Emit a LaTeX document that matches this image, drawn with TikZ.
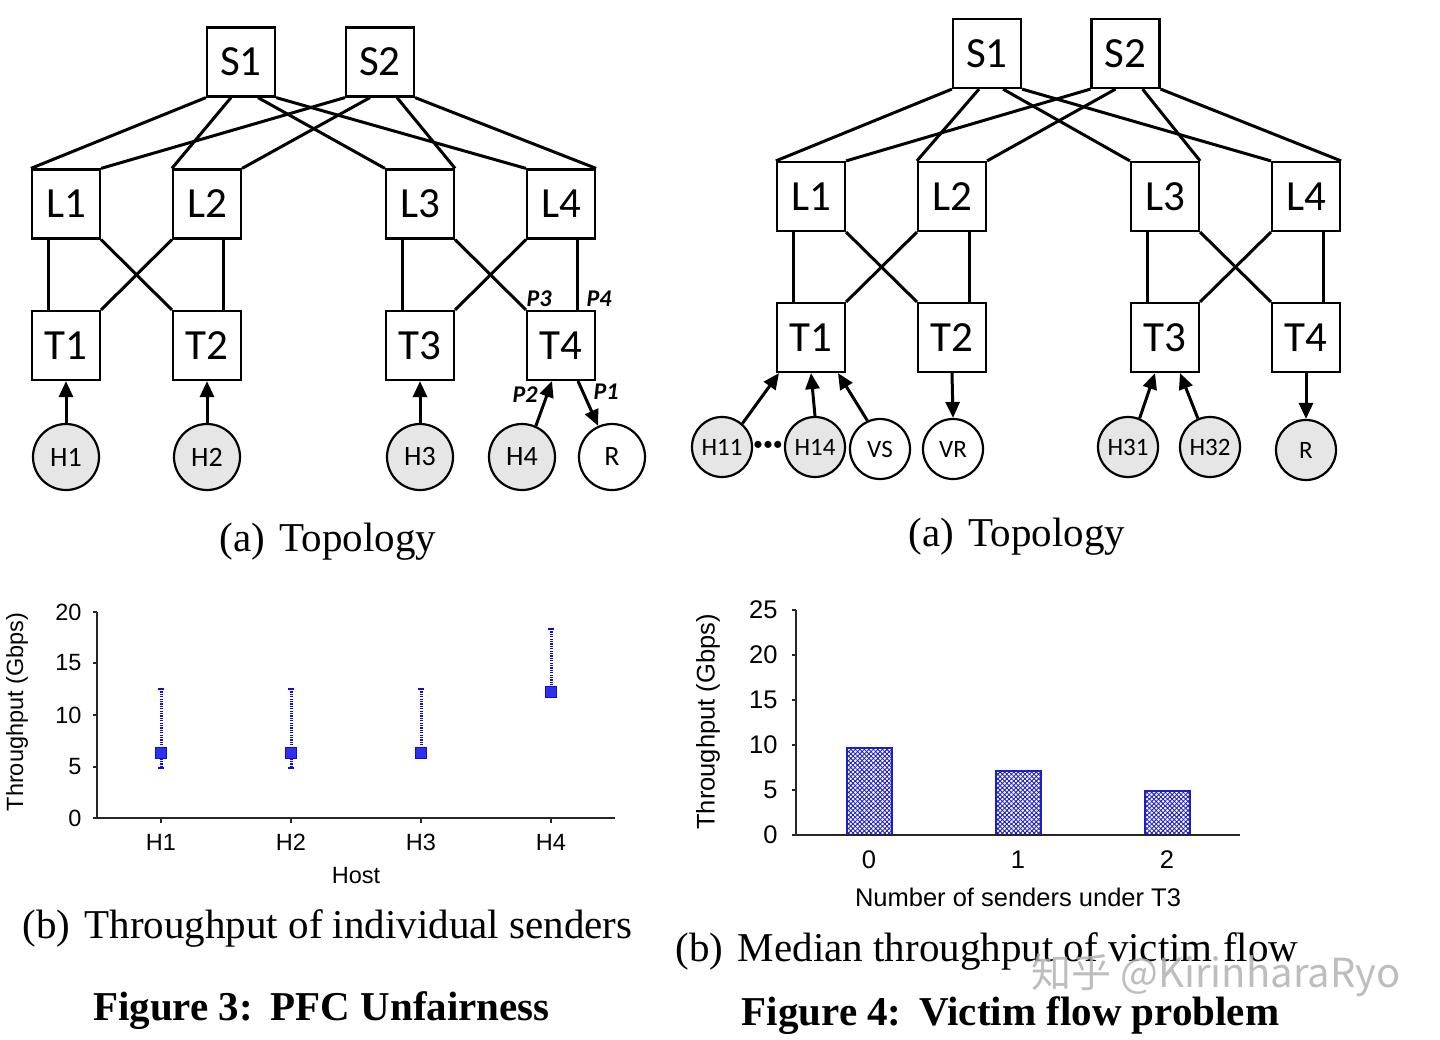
\documentclass[tikz,border=0pt]{standalone}
\usepackage{fontspec}
\setmainfont{Liberation Serif}
\setsansfont{Liberation Sans}
\newfontfamily\calfont{Carlito}
\newfontfamily\cjkfont{Noto Sans CJK SC}
\usetikzlibrary{arrows.meta,patterns.meta}
\newcommand\setfs[1]{\fontsize{#1}{#1}\selectfont}
\definecolor{hostgray}{RGB}{230,230,230}
\definecolor{plotblue}{RGB}{10,10,235}
\definecolor{barblue}{RGB}{30,30,200}
\begin{document}
\begin{tikzpicture}[x=1pt,y=-1pt,
  swbox/.style={draw, line width=2.2pt, minimum width=68pt, minimum height=69pt, inner sep=0pt, font=\calfont\setfs{43}},
  host/.style={circle, draw, line width=2.2pt, fill=hostgray, minimum size=66pt, inner sep=0pt, font=\calfont\setfs{28}},
  rcv/.style={host, fill=white},
  hostr/.style={host, minimum size=60pt, font=\calfont\setfs{25}},
  rcvr/.style={hostr, fill=white},
  link/.style={line width=3pt},
  arr/.style={line width=3pt, -{Triangle[length=16pt,width=14pt]}},
  plab/.style={font=\calfont\bfseries\itshape\setfs{24}},
  axisline/.style={line width=1.3pt, black!85},
  ticklab/.style={font=\sffamily\setfs{23.5}},
  ticklabr/.style={font=\sffamily\setfs{25.5}},
  captext/.style={anchor=base, font=\rmfamily\setfs{41}},
  figcap/.style={anchor=base, font=\rmfamily\bfseries\setfs{41}},
  errbar/.style={plotblue, line width=3pt, dash pattern=on 1.2pt off 1.2pt},
  errcap/.style={plotblue, line width=2pt},
  sqmarker/.style={draw=plotblue, fill=plotblue!85, line width=1pt, minimum size=11pt, inner sep=0pt},
  barrect/.style={draw=barblue, line width=1.8pt}
]
\useasboundingbox (0,0) rectangle (1440,1039);

% ================= Figure 3 topology =================
\node[swbox] (aS1) at (241,62) {S1};
\node[swbox] (aS2) at (380,62) {S2};
\node[swbox] (aL1) at (66,204) {L1};
\node[swbox] (aL2) at (207,204) {L2};
\node[swbox] (aL3) at (420,204) {L3};
\node[swbox] (aL4) at (561,204) {L4};
\node[swbox] (aT1) at (66,345.5) {T1};
\node[swbox] (aT2) at (207,345.5) {T2};
\node[swbox] (aT3) at (420,345.5) {T3};
\node[swbox] (aT4) at (561,345.5) {T4};
\node[host] (aH1) at (66,457) {H1};
\node[host] (aH2) at (207,457) {H2};
\node[host] (aH3) at (420,457) {H3};
\node[host] (aH4) at (522,457) {H4};
\node[rcv] (aR) at (612,457) {R};

\draw[link] (aS1.south west) -- (aL1.north west);
\draw[link] ([xshift=-10pt]aS1.south) -- (aL2.north west);
\draw[link] ([xshift=17pt]aS1.south) -- (aL3.north west);
\draw[link] (aS1.south east) -- (aL4.north west);
\draw[link] (aS2.south west) -- (aL1.north east);
\draw[link] ([xshift=-10pt]aS2.south) -- (aL2.north east);
\draw[link] ([xshift=17pt]aS2.south) -- (aL3.north east);
\draw[link] (aS2.south east) -- (aL4.north east);

\draw[link] ([xshift=-18pt]aL1.south) -- ([xshift=-18pt]aT1.north);
\draw[link] (aL1.south east) -- (aT2.north west);
\draw[link] (aL2.south west) -- (aT1.north east);
\draw[link] ([xshift=16pt]aL2.south) -- ([xshift=16pt]aT2.north);
\draw[link] ([xshift=-18pt]aL3.south) -- ([xshift=-18pt]aT3.north);
\draw[link] (aL3.south east) -- (aT4.north west);
\draw[link] (aL4.south west) -- (aT3.north east);
\draw[link] ([xshift=16pt]aL4.south) -- ([xshift=16pt]aT4.north);

\draw[arr] (aH1.north) -- (aT1.south);
\draw[arr] (aH2.north) -- (aT2.south);
\draw[arr] (aH3.north) -- (aT3.south);
\draw[arr] (aH4.66) -- ([xshift=-9pt]aT4.south);
\draw[arr] ([xshift=17pt]aT4.south) -- (aR.114);

\node[plab] (p3) at (539,299) {P3};
\node[plab] (p4) at (599,299) {P4};
\node[plab] (p2) at (525,395) {P2};
\node[plab] (p1) at (606,392) {P1};

% ================= Figure 4 topology =================
\node[swbox] (bS1) at (987,53.5) {S1};
\node[swbox] (bS2) at (1125.5,53.5) {S2};
\node[swbox] (bL1) at (811,196.5) {L1};
\node[swbox] (bL2) at (952,196.5) {L2};
\node[swbox] (bL3) at (1165,196.5) {L3};
\node[swbox] (bL4) at (1306,196.5) {L4};
\node[swbox] (bT1) at (811,337.5) {T1};
\node[swbox] (bT2) at (952,337.5) {T2};
\node[swbox] (bT3) at (1165,337.5) {T3};
\node[swbox] (bT4) at (1306,337.5) {T4};
\node[hostr] (bH11) at (722,447) {H11};
\node[hostr] (bH14) at (815,447) {H14};
\node[rcvr] (bVS) at (880,449) {VS};
\node[rcvr] (bVR) at (953,449) {VR};
\node[hostr] (bH31) at (1128,447) {H31};
\node[hostr] (bH32) at (1210,447) {H32};
\node[hostr] (bR) at (1306,450) {R};
\node[font=\calfont\setfs{20}] (bdots) at (768,446) {•••};

\draw[link] (bS1.south west) -- (bL1.north west);
\draw[link] ([xshift=-8pt]bS1.south) -- (bL2.north west);
\draw[link] ([xshift=16pt]bS1.south) -- (bL3.north west);
\draw[link] (bS1.south east) -- (bL4.north west);
\draw[link] (bS2.south west) -- (bL1.north east);
\draw[link] ([xshift=-10pt]bS2.south) -- (bL2.north east);
\draw[link] ([xshift=17pt]bS2.south) -- (bL3.north east);
\draw[link] (bS2.south east) -- (bL4.north east);

\draw[link] ([xshift=-18pt]bL1.south) -- ([xshift=-18pt]bT1.north);
\draw[link] (bL1.south east) -- (bT2.north west);
\draw[link] (bL2.south west) -- (bT1.north east);
\draw[link] ([xshift=17pt]bL2.south) -- ([xshift=17pt]bT2.north);
\draw[link] ([xshift=-18pt]bL3.south) -- ([xshift=-18pt]bT3.north);
\draw[link] (bL3.south east) -- (bT4.north west);
\draw[link] (bL4.south west) -- (bT3.north east);
\draw[link] ([xshift=17pt]bL4.south) -- ([xshift=17pt]bT4.north);

\draw[arr] (bH11.49) -- ([xshift=-32pt]bT1.south);
\draw[arr] (bH14.north) -- (bT1.south);
\draw[arr] (bVS.114) -- ([xshift=27pt]bT1.south);
\draw[arr] (bT2.south) -- (bVR.north);
\draw[arr] (bH31.68) -- ([xshift=-10pt]bT3.south);
\draw[arr] (bH32.113) -- ([xshift=15pt]bT3.south);
\draw[arr] (bT4.south) -- (bR.north);

% ================= captions (a) =================
\node[captext] (capa1) at (328,551) {(a)\hspace{0.35em}Topology};
\node[captext] (capa2) at (1017,546) {(a)\hspace{0.35em}Topology};

% ================= Figure 3 chart =================
\draw[axisline] (97,612) -- (97,818) -- (615,818);
\foreach \v/\yy in {0/818,5/767,10/715,15/663,20/612}{
  \draw[axisline] (93,\yy) -- (97,\yy);
  \node[ticklab, anchor=east] (ly\v) at (85,\yy) {\v};
}
\foreach \h/\xx in {H1/161,H2/291,H3/421,H4/551}{
  \draw[axisline] (\xx,818) -- (\xx,823);
  \node[ticklab] (lx\h) at (\xx,842) {\h};
}
\node[ticklab] (hostlab) at (356,876) {Host};
\node[ticklab, rotate=90] (ylabA) at (17,712) {Throughput (Gbps)};

\draw[errbar] (161,689) -- (161,767);
\draw[errcap] (158,689) -- (164,689);
\draw[errcap] (158,768) -- (164,768);
\node[sqmarker] (m1) at (161,753) {};
\draw[errbar] (291,689) -- (291,767);
\draw[errcap] (288,689) -- (294,689);
\draw[errcap] (288,768) -- (294,768);
\node[sqmarker] (m2) at (291,753) {};
\draw[errbar] (421,689) -- (421,753);
\draw[errcap] (418,689) -- (424,689);
\node[sqmarker] (m3) at (421,753) {};
\draw[errbar] (551,629) -- (551,692);
\draw[errcap] (548,629) -- (554,629);
\node[sqmarker] (m4) at (551,692) {};

\node[captext] (capb1) at (327.5,938) {(b)\hspace{0.35em}Throughput of individual senders};
\node[figcap] (fig3) at (321.5,1020) {Figure 3:\hspace{0.1em} PFC Unfairness};

% ================= Figure 4 chart =================
\foreach \xa/\xb/\val [count=\i] in {847/892/9.7, 996/1041/7.1, 1145/1190/4.9}{
  \fill[pattern={Lines[angle=45,distance=3.2pt,line width=0.9pt]}, pattern color=barblue] (\xa,835) rectangle (\xb,835-9*\val);
  \fill[pattern={Lines[angle=-45,distance=3.2pt,line width=0.9pt]}, pattern color=barblue] (\xa,835) rectangle (\xb,835-9*\val);
  \draw[barrect] (\xa,835) rectangle (\xb,835-9*\val);
}
\draw[axisline] (796,610) -- (796,835) -- (1240,835);
\foreach \v in {0,5,10,15,20,25}{
  \draw[axisline] (792,835-9*\v) -- (796,835-9*\v);
  \node[ticklabr, anchor=east] (ry\v) at (781,835-9*\v) {\v};
}
\foreach \c/\xx in {0/869,1/1018,2/1167}{
  \node[ticklabr] (rx\c) at (\xx,860) {\c};
}
\node[ticklabr] (numlab) at (1018,897) {Number of senders under T3};
\node[ticklabr, rotate=90] (ylabB) at (708,722) {Throughput (Gbps)};

\node[captext] (capb2) at (987,961) {(b)\hspace{0.35em}Median throughput of victim flow};
\node[figcap] (fig4) at (1010.5,1025) {Figure 4:\hspace{0.1em} Victim flow problem};

% watermark
\node[font=\cjkfont\setfs{40}, text=black!30, opacity=0.85] (wm) at (1216,975) {知乎 @KirinharaRyo};
\end{tikzpicture}
\end{document}
